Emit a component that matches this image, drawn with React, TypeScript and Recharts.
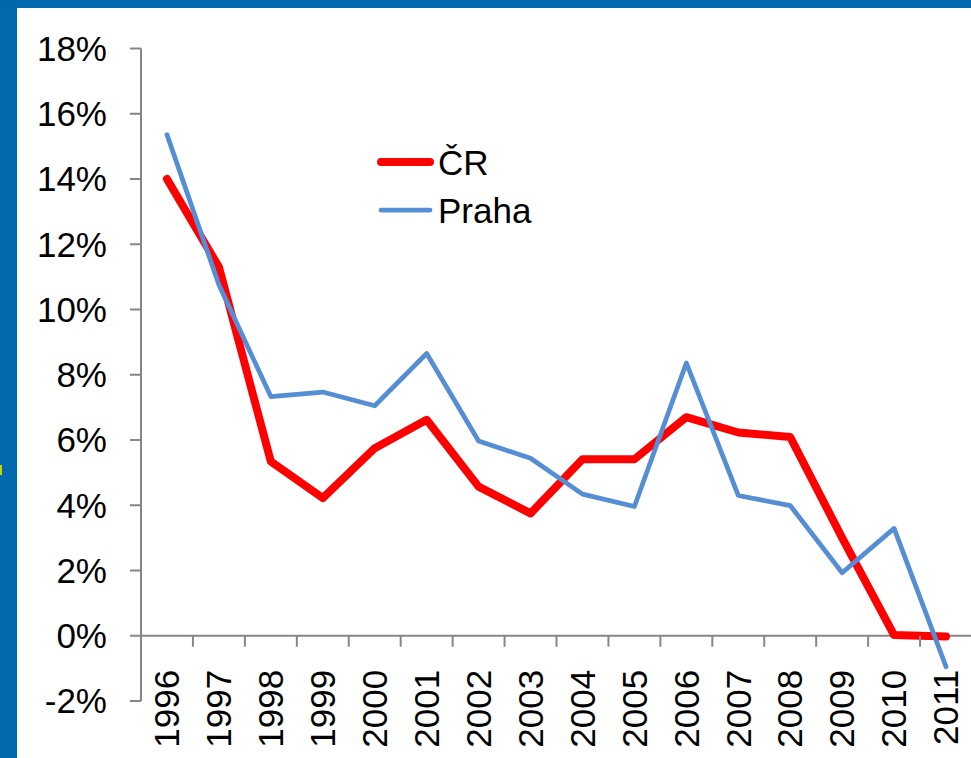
import React from "react";
import { LineChart, Line, XAxis, YAxis, ReferenceLine, Legend } from "recharts";

const YEARS = ["1996", "1997", "1998", "1999", "2000", "2001", "2002", "2003", "2004", "2005", "2006", "2007", "2008", "2009", "2010", "2011"];
const CR = [14.0, 11.3, 5.34, 4.22, 5.75, 6.62, 4.57, 3.75, 5.41, 5.41, 6.7, 6.23, 6.09, 3.0, 0.02, -0.02];
const PRAHA = [15.36, 10.76, 7.33, 7.47, 7.05, 8.65, 5.97, 5.44, 4.34, 3.96, 8.36, 4.3, 3.99, 1.93, 3.29, -0.95];
const Y_TICKS = [-2, 0, 2, 4, 6, 8, 10, 12, 14, 16, 18];

const SERIES = [
  { key: "cr", name: "ČR", color: "#ff0000", width: 8 },
  { key: "praha", name: "Praha", color: "#558ed5", width: 4.75 },
];

const data = YEARS.map((year, i) => ({ year, cr: CR[i], praha: PRAHA[i] }));

const FONT = "'Liberation Sans', Arial, sans-serif";
const AXIS = "#868686";

// layout
const CHART_W = 980;
const CHART_H = 758;
const TOP = 48.5;
const X_AXIS_H = 57;
const Y_AXIS_W = 141;
const RIGHT = 8;
const PLOT_W = CHART_W - Y_AXIS_W - RIGHT;
const PLOT_H = CHART_H - TOP - X_AXIS_H;
const HALF = PLOT_W / YEARS.length / 2;
const ZERO_Y = TOP + (PLOT_H * 18) / 20;

const XTick = (props: any) => {
  const { x, payload, index } = props;
  const labelY = ZERO_Y + 34;
  return (
    <g>
      <line x1={x - HALF} x2={x - HALF} y1={ZERO_Y} y2={ZERO_Y + 11} stroke={AXIS} strokeWidth={2} />
      {index === YEARS.length - 1 && (
        <line x1={x + HALF} x2={x + HALF} y1={ZERO_Y} y2={ZERO_Y + 11} stroke={AXIS} strokeWidth={2} />
      )}
      <text
        x={x}
        y={labelY}
        dy="0.35em"
        textAnchor="end"
        transform={`rotate(-90, ${x}, ${labelY})`}
        fill="#000"
        fontSize={35}
        fontFamily={FONT}
      >
        {payload.value}
      </text>
    </g>
  );
};

const renderLegend = () => (
  <div style={{ fontFamily: FONT, fontSize: 35, color: "#000" }}>
    {SERIES.map((s) => (
      <div key={s.key} style={{ display: "flex", alignItems: "center", height: 48 }}>
        <svg width={57} height={12} style={{ display: "block" }}>
          <line x1={4} x2={53} y1={6} y2={6} stroke={s.color} strokeWidth={s.width} strokeLinecap="round" />
        </svg>
        <span style={{ marginLeft: 4, lineHeight: 1 }}>{s.name}</span>
      </div>
    ))}
  </div>
);

export default function App() {
  return (
    <div style={{ position: "absolute", left: 0, top: 0, width: 971, height: 758, background: "#0068ad", overflow: "hidden" }}>
      <div style={{ position: "absolute", left: 17, top: 8, right: 0, bottom: 0, background: "#fff" }} />
      <div style={{ position: "absolute", left: 0, top: 465, width: 2, height: 10, background: "#c8d400" }} />
      <div style={{ position: "absolute", left: 0, top: 0 }}>
        <LineChart width={CHART_W} height={CHART_H} data={data} margin={{ top: TOP, right: RIGHT, bottom: 0, left: 0 }}>
          <XAxis
            dataKey="year"
            height={X_AXIS_H}
            padding={{ left: HALF, right: HALF }}
            axisLine={false}
            tickLine={false}
            interval={0}
            tick={<XTick />}
          />
          <YAxis
            width={Y_AXIS_W}
            domain={[-2, 18]}
            ticks={Y_TICKS}
            interval={0}
            tickFormatter={(v: number) => `${v}%`}
            tickSize={11}
            tickMargin={23}
            axisLine={{ stroke: AXIS, strokeWidth: 2 }}
            tickLine={{ stroke: AXIS, strokeWidth: 2 }}
            tick={{ fill: "#000", fontSize: 35, fontFamily: FONT }}
          />
          <ReferenceLine y={0} stroke={AXIS} strokeWidth={2} />
          <Legend
            layout="vertical"
            align="center"
            verticalAlign="middle"
            content={renderLegend}
            wrapperStyle={{ left: 377, top: 138, width: "auto" }}
          />
          {SERIES.map((s) => (
            <Line
              key={s.key}
              dataKey={s.key}
              name={s.name}
              stroke={s.color}
              strokeWidth={s.width}
              strokeLinecap="round"
              strokeLinejoin="round"
              dot={false}
              activeDot={false}
              isAnimationActive={false}
            />
          ))}
        </LineChart>
      </div>
    </div>
  );
}
